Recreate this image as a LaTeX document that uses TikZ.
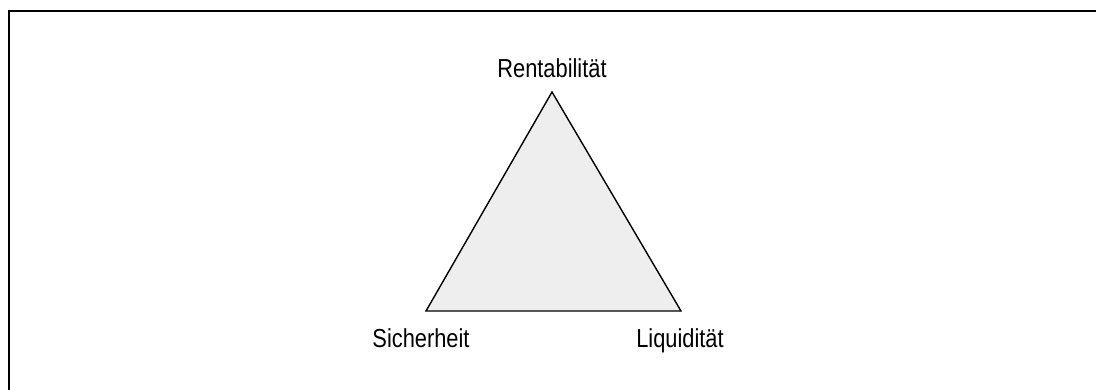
\documentclass[tikz,border=0pt]{standalone}
\usepackage{fontspec}
\setmainfont{Liberation Sans}[FakeStretch=0.84]
\usetikzlibrary{positioning}
\definecolor{trifill}{HTML}{EEEEEE}
\tikzset{
  frame/.style={draw,line width=2pt},
  tri/.style={draw,fill=trifill,line width=1.4pt,line join=miter},
  lbl/.style={anchor=base,inner sep=0pt,font=\fontsize{26}{29}\selectfont}
}

\begin{document}
\begin{tikzpicture}[x=1pt,y=-1pt]
\useasboundingbox (0,0) rectangle (1096,389);
\clip (0,0) rectangle (1096,389);
\draw[frame] (9,10.5) rectangle (1200,500);
\coordinate (top) at (552,92);
\coordinate (left) at (426,311);
\coordinate (right) at (681,311);
\draw[tri] (top) -- (left) -- (right) -- cycle;
\node[lbl] (ren) at (552,77) {Rentabilität};
\node[lbl] (sic) at (421,347) {Sicherheit};
\node[lbl] (liq) at (680,347) {Liquidität};
\end{tikzpicture}
\end{document}
